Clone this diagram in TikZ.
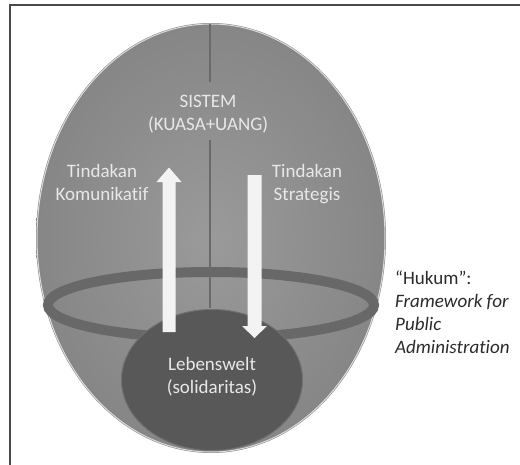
\documentclass[tikz,border=0pt]{standalone}
\usepackage{fontspec}
\setmainfont{Carlito}[Ligatures=NoCommon]
\usetikzlibrary{shapes.geometric}
\definecolor{eggin}{HTML}{9A9A9A}
\definecolor{eggout}{HTML}{868686}
\definecolor{ringc}{HTML}{686868}
\definecolor{lebc}{HTML}{585858}
\definecolor{lebedge}{HTML}{707070}
\definecolor{arrowc}{HTML}{F3F3F3}
\definecolor{lighttext}{HTML}{E8E8E8}
\definecolor{darktext}{HTML}{2B2B2B}
\definecolor{framec}{HTML}{4A4A4A}
\definecolor{axisc}{HTML}{6A6A6A}
\tikzset{
  lbl/.style={text=lighttext, align=center, inner sep=0pt, font=\fontsize{19}{23}\selectfont},
  sidelbl/.style={text=darktext, align=left, inner sep=0pt, anchor=west, font=\fontsize{19}{23}\selectfont},
  blockarrow/.style={fill=arrowc, draw=none},
  axisline/.style={draw=axisc, line width=1.6pt}
}
\begin{document}
\begin{tikzpicture}[x=1pt,y=-1pt]
\useasboundingbox (0,0) rectangle (520,464);
\fill[white] (0,0) rectangle (520,464);
% frame (only left and top visible)
\draw[framec, line width=1.5pt] (10,470) -- (10,5) -- (530,5);
% egg
\shade[inner color=eggin, outer color=eggout] (211,238) ellipse [x radius=175pt, y radius=215pt];
\draw[white!70!eggout, line width=1pt] (211,238) ellipse [x radius=174pt, y radius=214pt];
% ring
\draw[ringc, line width=10pt] (211,305) ellipse [x radius=163pt, y radius=33pt];
% vertical axis
\coordinate (axtop) at (210,24);
\coordinate (axmid1) at (210,82);
\coordinate (axmid2) at (210,140);
\coordinate (axbot) at (210,308);
\draw[axisline] (axtop) -- (axmid1);
\draw[axisline] (axmid2) -- (axbot);
% Lebenswelt
\node[ellipse, fill=lebc, draw=lebedge, line width=1pt, minimum width=181pt, minimum height=141pt, inner sep=0pt] (leb) at (212,380) {};
% arrows
\fill[blockarrow] (162.5,332) -- (162.5,182) -- (156.5,182) -- (169,167.5) -- (181.5,182) -- (175.5,182) -- (175.5,332) -- cycle;
\fill[blockarrow] (247.5,175) -- (261.5,175) -- (261.5,326) -- (267,326) -- (254.5,338) -- (242,326) -- (247.5,326) -- cycle;
% texts
\node[lbl] (sys) at (208,114) {SISTEM\\(KUASA+UANG)};
\node[lbl] (kom) at (102,182) {Tindakan\\Komunikatif};
\node[lbl] (str) at (307,184) {Tindakan\\Strategis};
\node[lbl] (lebt) at (212,377) {Lebenswelt\\(solidaritas)};
\node[sidelbl] (hukum) at (395,312) {“Hukum”:\\\textit{Framework for}\\\textit{Public}\\\textit{Administration}};
\end{tikzpicture}
\end{document}
